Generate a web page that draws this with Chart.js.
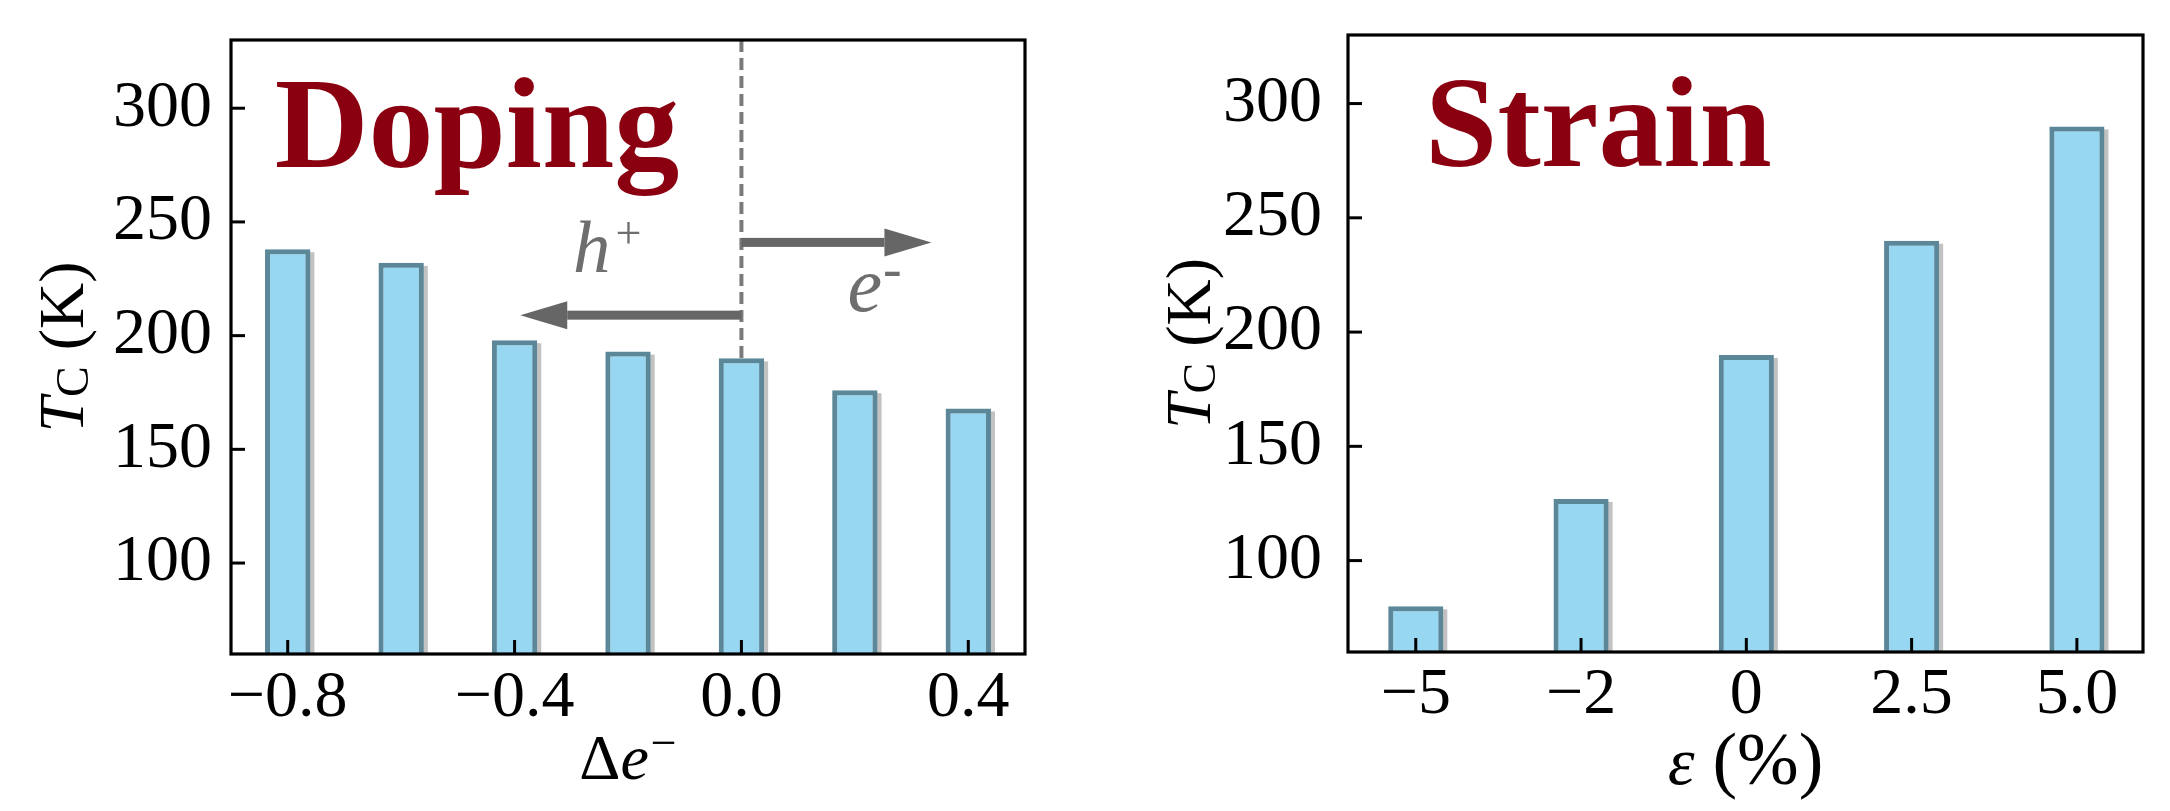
<!DOCTYPE html>
<html><head><meta charset="utf-8">
<script src="https://cdn.jsdelivr.net/npm/chart.js@4.4.0/dist/chart.umd.min.js"></script>
<style>
html,body{margin:0;padding:0;background:#fff;width:2170px;height:811px;overflow:hidden}
.p{position:absolute;top:0;width:1085px;height:811px}
</style></head><body>
<div class="p" style="left:0"><canvas id="c1" width="1085" height="811"></canvas></div>
<div class="p" style="left:1085px"><canvas id="c2" width="1085" height="811"></canvas></div>
<script>
// ---- data ----
const dopingX = [-0.8, -0.6, -0.4, -0.2, 0.0, 0.2, 0.4];
const dopingTc = [238, 232, 198, 193, 190, 176, 168];
const dopingTicks = [-0.8, -0.4, 0.0, 0.4];
const dopingTickLabels = ['−0.8', '−0.4', '0.0', '0.4'];
const strainCategories = ['−5', '−2', '0', '2.5', '5.0'];
const strainTc = [80, 127, 190, 240, 290];
const yTicks = [100, 150, 200, 250, 300];
const yRange = [60, 330];
const dopingRange = [-0.9, 0.5];
const strainRange = [-0.41, 4.4];
const holeArrow = [0, -0.39, 209];
const elecArrow = [0, 0.335, 241];
const holeLabel = [-0.297, 228];
const elecLabel = [0.187, 211];

// ---- style ----
const SERIF = "'Liberation Serif','Times New Roman',serif";
const BAR_FILL = '#98d7f1';
const BAR_EDGE = '#5b8799';
const DARKRED = '#8b0010';
const GRAY_TXT = '#6e6e6e';
function f(style, weight, size) { return style + ' ' + weight + ' ' + size + 'px ' + SERIF; }

function drawRich(ctx, segs, x0, y0, rot, align) {
  ctx.save();
  ctx.translate(x0, y0);
  if (rot) ctx.rotate(rot);
  let w = 0;
  segs.forEach(s => { ctx.font = s.font; s.w = (s.pre || 0) + ctx.measureText(s.t).width; w += s.w; });
  let x = align === 'left' ? 0 : -w / 2;
  ctx.textAlign = 'left'; ctx.textBaseline = 'alphabetic';
  segs.forEach(s => {
    ctx.font = s.font; ctx.fillStyle = s.color || '#000';
    ctx.fillText(s.t, x + (s.pre || 0), s.dy || 0);
    x += s.w;
  });
  ctx.restore();
}

const shadowPlugin = {
  id: 'barShadow',
  beforeDatasetsDraw(chart) {
    const ctx = chart.ctx, a = chart.chartArea;
    ctx.save();
    ctx.beginPath(); ctx.rect(a.left, a.top, a.right - a.left, a.bottom - a.top); ctx.clip();
    ctx.fillStyle = 'rgba(0,0,0,0.24)';
    chart.getDatasetMeta(0).data.forEach(el => {
      const p = el.getProps(['x', 'y', 'base', 'width'], true);
      ctx.fillRect(p.x - p.width / 2 + 4, p.y + 3, p.width, Math.min(p.base, a.bottom + 10) - p.y);
    });
    ctx.restore();
  }
};

const framePlugin = {
  id: 'frame',
  afterDraw(chart) {
    const ctx = chart.ctx, a = chart.chartArea;
    const xs = chart.scales.x, ys = chart.scales.y;
    ctx.save();
    ctx.strokeStyle = '#000';
    ctx.lineWidth = 3;
    ys.ticks.forEach(t => {
      const py = ys.getPixelForValue(t.value);
      ctx.beginPath(); ctx.moveTo(a.left, py); ctx.lineTo(a.left + 14, py); ctx.stroke();
    });
    xs.ticks.forEach(t => {
      const px = xs.getPixelForValue(t.value);
      ctx.beginPath(); ctx.moveTo(px, a.bottom); ctx.lineTo(px, a.bottom - 14); ctx.stroke();
    });
    ctx.lineWidth = 3.2;
    ctx.strokeRect(a.left, a.top, a.right - a.left, a.bottom - a.top);
    ctx.restore();
  }
};

function arrow(ctx, xs, ys, spec) {
  const x0 = xs.getPixelForValue(spec[0]), x1 = xs.getPixelForValue(spec[1]), y = ys.getPixelForValue(spec[2]);
  const dir = Math.sign(x1 - x0), headL = 47, headW = 28, shaft = 9;
  ctx.fillStyle = '#666666';
  ctx.fillRect(Math.min(x0, x1 - dir * headL), y - shaft / 2, Math.abs(x1 - dir * headL - x0), shaft);
  ctx.beginPath();
  ctx.moveTo(x1, y);
  ctx.lineTo(x1 - dir * headL, y - headW / 2);
  ctx.lineTo(x1 - dir * headL, y + headW / 2);
  ctx.closePath(); ctx.fill();
}

const dopingAnno = {
  id: 'dopingAnno',
  afterDatasetsDraw(chart) {
    const ctx = chart.ctx, a = chart.chartArea, xs = chart.scales.x, ys = chart.scales.y;
    ctx.save();
    const px0 = xs.getPixelForValue(0);
    ctx.strokeStyle = '#7a7a7a'; ctx.lineWidth = 4; ctx.setLineDash([12, 6]);
    ctx.beginPath(); ctx.moveTo(px0, a.top); ctx.lineTo(px0, ys.getPixelForValue(dopingTc[dopingX.indexOf(0)])); ctx.stroke();
    ctx.setLineDash([]);
    arrow(ctx, xs, ys, holeArrow);
    arrow(ctx, xs, ys, elecArrow);
    drawRich(ctx, [
      { t: 'h', font: f('italic', 'normal', 75), color: GRAY_TXT },
      { t: '+', font: f('normal', 'normal', 46), color: GRAY_TXT, dy: -24, pre: 5 }
    ], xs.getPixelForValue(holeLabel[0]), ys.getPixelForValue(holeLabel[1]), 0, 'left');
    drawRich(ctx, [
      { t: 'e', font: f('italic', 'normal', 78), color: GRAY_TXT },
      { t: '-', font: f('normal', 'normal', 56), color: GRAY_TXT, dy: -24, pre: 1 }
    ], xs.getPixelForValue(elecLabel[0]), ys.getPixelForValue(elecLabel[1]), 0, 'left');
    ctx.restore();
  },
  afterDraw(chart) {
    const ctx = chart.ctx, a = chart.chartArea, w = a.right - a.left, h = a.bottom - a.top;
    drawRich(ctx, [{ t: 'Doping', font: f('normal', 'bold', 130), color: DARKRED }],
      a.left + 0.055 * w, a.bottom - 0.793 * h, 0, 'left');
    drawRich(ctx, [
      { t: 'Δ', font: f('normal', 'normal', 64) },
      { t: 'e', font: f('italic', 'normal', 64) },
      { t: '−', font: f('normal', 'normal', 46), dy: -21, pre: 2 }
    ], (a.left + a.right) / 2, 779, 0, 'center');
    drawRich(ctx, [
      { t: 'T', font: f('italic', 'normal', 64) },
      { t: 'C', font: f('normal', 'normal', 46), dy: 5 },
      { t: ' (K)', font: f('normal', 'normal', 64) }
    ], 83, (a.top + a.bottom) / 2, -Math.PI / 2, 'center');
  }
};

const strainAnno = {
  id: 'strainAnno',
  afterDraw(chart) {
    const ctx = chart.ctx, a = chart.chartArea, w = a.right - a.left, h = a.bottom - a.top;
    drawRich(ctx, [{ t: 'Strain', font: f('normal', 'bold', 130), color: DARKRED }],
      a.left + 0.097 * w, a.bottom - 0.788 * h, 0, 'left');
    drawRich(ctx, [
      { t: 'ε', font: f('italic', 'normal', 68) },
      { t: '(%)', font: f('normal', 'normal', 74), pre: 18 }
    ], (a.left + a.right) / 2, 784, 0, 'center');
    drawRich(ctx, [
      { t: 'T', font: f('italic', 'normal', 64) },
      { t: 'C', font: f('normal', 'normal', 46), dy: 5 },
      { t: ' (K)', font: f('normal', 'normal', 64) }
    ], 125, (a.top + a.bottom) / 2, -Math.PI / 2, 'center');
  }
};

function makeChart(id, cfg) {
  return new Chart(document.getElementById(id), {
    type: 'bar',
    data: {
      datasets: [{
        data: cfg.data,
        backgroundColor: BAR_FILL,
        borderColor: BAR_EDGE,
        borderWidth: 5,
        borderSkipped: false,
        categoryPercentage: 1,
        barPercentage: cfg.barPct
      }]
    },
    options: {
      responsive: false, animation: false, devicePixelRatio: 1,
      layout: { padding: cfg.pad },
      plugins: { legend: { display: false }, tooltip: { enabled: false } },
      scales: {
        x: {
          type: 'linear', min: cfg.xRange[0], max: cfg.xRange[1], offset: false,
          grid: { display: false, drawTicks: false }, border: { display: false },
          afterBuildTicks: s => { s.ticks = cfg.xTicks.map(v => ({ value: v })); },
          ticks: {
            callback: (v, i) => cfg.xLabels[i],
            font: { family: SERIF, size: 66 }, color: '#000',
            padding: cfg.xPad, maxRotation: 0, autoSkip: false
          },
          afterFit: s => { s.height = cfg.xH; s.paddingLeft = 0; s.paddingRight = 0; }
        },
        y: {
          type: 'linear', min: yRange[0], max: yRange[1],
          grid: { display: false, drawTicks: false }, border: { display: false },
          afterBuildTicks: s => { s.ticks = yTicks.map(v => ({ value: v })); },
          ticks: {
            callback: v => String(v),
            font: { family: SERIF, size: 66 }, color: '#000',
            padding: cfg.yPad, autoSkip: false
          },
          afterFit: s => { s.width = cfg.yW; s.paddingTop = 0; s.paddingBottom = 0; }
        }
      }
    },
    plugins: [shadowPlugin, framePlugin, cfg.extra]
  });
}

makeChart('c1', {
  data: dopingX.map((x, i) => ({ x: x, y: dopingTc[i] })),
  barPct: 0.4,
  xRange: dopingRange,
  xTicks: dopingTicks,
  xLabels: dopingTickLabels,
  pad: { top: 40, right: 60, left: 0, bottom: 0 },
  xH: 157, yW: 231, xPad: 5, yPad: 19,
  extra: dopingAnno
});

makeChart('c2', {
  data: strainTc.map((v, i) => ({ x: i, y: v })),
  barPct: 1 / 3,
  xRange: strainRange,
  xTicks: strainCategories.map((c, i) => i),
  xLabels: strainCategories,
  pad: { top: 35, right: 27, left: 0, bottom: 0 },
  xH: 159, yW: 263, xPad: 4, yPad: 26,
  extra: strainAnno
});
</script>
</body></html>
